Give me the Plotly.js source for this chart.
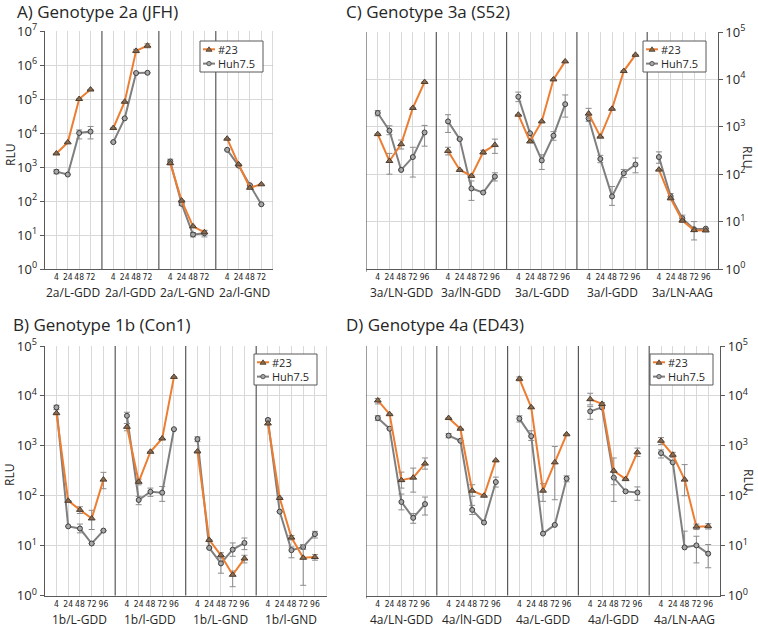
<!DOCTYPE html>
<html>
<head>
<meta charset="utf-8">
<script src="https://cdn.plot.ly/plotly-3.0.1.min.js"></script>
<style>html,body{margin:0;padding:0;background:#fff;}#chart{width:758px;height:627px;}</style>
</head>
<body>
<div id="chart"></div>
<script>
// ---------- DATA ----------
// Panel A: Genotype 2a (JFH)
const timesA = ["4", "24", "48", "72"];
const groupsA = ["2a/L-GDD", "2a/l-GDD", "2a/L-GND", "2a/l-GND"];
const a23 = [[2500, 5300, 1.0e5, 1.9e5], [1.4e4, 8.3e4, 2.6e6, 3.7e6], [1300, 103, 18, 12], [6800, 1200, 245, 310]];
const a23Up = [[0, 0, 0, 0], [0, 0, 3e5, 5e5], [150, 0, 0, 1.5], [0, 0, 0, 0]];
const a23Dn = [[0, 0, 0, 0], [0, 0, 3e5, 5e5], [150, 0, 0, 1.5], [0, 0, 0, 0]];
const aHuh = [[730, 600, 1.0e4, 1.1e4], [5400, 2.7e4, 5.8e5, 5.9e5], [1450, 83, 10.3, 11.3], [3200, 1100, 290, 80]];
const aHuhUp = [[100, 0, 2300, 4500], [0, 0, 0, 0], [250, 15, 1.5, 2.5], [0, 0, 0, 0]];
const aHuhDn = [[100, 0, 3300, 4300], [0, 0, 0, 0], [200, 10, 1.5, 2.5], [0, 0, 0, 0]];

// Panel B: Genotype 1b (Con1)
const timesB = ["4", "24", "48", "72", "96"];
const groupsB = ["1b/L-GDD", "1b/l-GDD", "1b/L-GND", "1b/l-GND"];
const b23 = [[4500, 79, 52, 35, 210], [2400, 190, 760, 1400, 2.4e4], [770, 13, 6.4, 2.6, 5.5], [2800, 90, 14.5, 5.7, 5.9]];
const b23Up = [[0, 0, 8, 16, 84], [400, 25, 0, 0, 0], [0, 0, 0.8, 0.5, 0.9], [0, 0, 1.5, 4.8, 0.7]];
const b23Dn = [[0, 0, 8, 14, 72], [400, 25, 0, 0, 0], [0, 0, 0.8, 1.1, 1.0], [0, 0, 1.5, 4.1, 0.8]];
const bHuh = [[5900, 24.3, 22, 11, 20], [4000, 82, 120, 115, 2150], [1360, 9, 4.4, 8.3, 11.3], [3300, 48, 8.1, 9.4, 17]];
const bHuhUp = [[600, 0, 5, 0, 0], [700, 15, 22, 38, 0], [150, 0, 1.7, 3, 2.9], [200, 0, 1.3, 1, 2.3]];
const bHuhDn = [[600, 0, 4, 0, 0], [1200, 16, 23, 38, 0], [150, 0, 1.6, 2.2, 3], [200, 0, 2.4, 1, 2.8]];

// Panel C: Genotype 3a (S52)
const timesC = ["4", "24", "48", "72", "96"];
const groupsC = ["3a/LN-GDD", "3a/lN-GDD", "3a/L-GDD", "3a/l-GDD", "3a/LN-AAG"];
const c23 = [[700, 190, 430, 2500, 8800], [310, 123, 92, 290, 415], [1800, 490, 1300, 1.0e4, 2.4e4], [1900, 620, 2400, 1.5e4, 3.3e4], [125, 31, 10.5, 6.6, 6.5]];
const c23Up = [[0, 85, 95, 0, 0], [60, 0, 0, 30, 135], [0, 0, 0, 0, 0], [550, 0, 0, 0, 0], [0, 0, 0, 0, 0]];
const c23Dn = [[0, 90, 90, 0, 0], [55, 0, 0, 30, 140], [0, 0, 0, 0, 0], [400, 0, 0, 0, 0], [0, 0, 0, 0, 0]];
const cHuh = [[1950, 830, 123, 230, 760], [1300, 550, 50, 41, 89], [4300, 730, 195, 650, 3000], [1500, 210, 34, 105, 160], [230, 34, 11.7, 6.9, 7.1]];
const cHuhUp = [[250, 220, 0, 140, 310], [500, 0, 22, 0, 18], [1100, 0, 62, 140, 1700], [200, 40, 21, 21, 60], [66, 5, 2, 3.1, 0]];
const cHuhDn = [[250, 150, 0, 143, 370], [540, 0, 22, 0, 17], [900, 0, 69, 130, 1400], [200, 35, 12, 20, 53], [60, 5, 2, 2.8, 0]];

// Panel D: Genotype 4a (ED43)
const timesD = ["4", "24", "48", "72", "96"];
const groupsD = ["4a/LN-GDD", "4a/lN-GDD", "4a/L-GDD", "4a/l-GDD", "4a/LN-AAG"];
const d23 = [[8100, 4300, 205, 230, 440], [3600, 2200, 126, 100, 510], [2.2e4, 5900, 126, 465, 1700], [8600, 6900, 316, 215, 740], [1260, 660, 210, 24, 24.5]];
const d23Up = [[800, 0, 92, 127, 130], [0, 0, 40, 0, 0], [2000, 0, 48, 505, 0], [2700, 500, 254, 0, 160], [200, 80, 210, 3, 3]];
const d23Dn = [[1200, 0, 63, 112, 100], [0, 0, 29, 0, 0], [2000, 0, 49, 382, 0], [2000, 500, 150, 0, 130], [200, 80, 110, 3, 3]];
const dHuh = [[3600, 2200, 75, 36, 68], [1600, 1260, 52, 29, 188], [3500, 1560, 17.4, 26, 220], [4900, 5900, 230, 122, 116], [715, 465, 9.2, 10.1, 6.9]];
const dHuhUp = [[400, 0, 33, 8, 26], [150, 0, 12, 0, 48], [500, 440, 0, 0, 30], [1200, 400, 0, 0, 34], [115, 0, 10.3, 5.3, 3.6]];
const dHuhDn = [[400, 0, 23, 8, 27], [150, 0, 10, 0, 39], [500, 280, 0, 0, 30], [1500, 400, 153, 0, 35], [145, 0, 0, 5.6, 3.3]];

const seriesNames = ["#23", "Huh7.5"];

// ---------- STYLE ----------
const FONT = "Open Sans, sans-serif";
const TICKFONT = "Liberation Sans Narrow, DejaVu Sans Condensed, Liberation Sans, sans-serif";
const ORANGE = "#ED7D31";
const GRAY = "#7F7F7F";
const GRID = "#d9d9d9";
const DARK = "#595959";
const TRI_FILL = "#8a6a4c", TRI_LINE = "#4d3d30";
const CIR_FILL = "#a6a6a6", CIR_LINE = "#404040";
const W = 758, H = 627;

function flatten(groups, nT, vals) {
  const x = [], y = [];
  groups.forEach((g, gi) => {
    for (let i = 0; i < nT; i++) { x.push(gi * (nT + 1) + i + 1); y.push(vals[gi][i]); }
    x.push(null); y.push(null);
  });
  return {x, y};
}
function flatErr(groups, nT, arr) {
  const out = [];
  groups.forEach((g, gi) => { for (let i = 0; i < nT; i++) out.push(arr[gi][i]); out.push(null); });
  return out;
}

const traces = [];
const shapes = [];
const annotations = [];
const layout = {
  width: W, height: H,
  margin: {l: 0, r: 0, t: 0, b: 0, pad: 0},
  paper_bgcolor: "#fff", plot_bgcolor: "#fff",
  font: {family: FONT, color: "#262626"},
  showlegend: false
};

const expText = e => "10<sup>" + e + "</sup>";
const px = v => v / W;           // pixel -> paper x
const py = v => 1 - v / H;       // pixel -> paper y

// Legend box drawn as paper-referenced shapes + one two-line text
function drawLegend(lx, ly) {
  const bw = 63, bh = 31;
  const LFS = 11, gap = LFS * 1.3;
  const r1 = ly + 8.3, r2 = r1 + gap;
  shapes.push({type: "rect", xref: "paper", yref: "paper", x0: px(lx), x1: px(lx + bw), y0: py(ly + bh), y1: py(ly),
               line: {color: DARK, width: 1}, fillcolor: "#fff", layer: "above"});
  const rows = [
    {color: ORANGE, sym: "tri", y: r1},
    {color: GRAY, sym: "cir", y: r2}
  ];
  rows.forEach(r => {
    shapes.push({type: "line", xref: "paper", yref: "paper", x0: px(lx + 3), x1: px(lx + 15), y0: py(r.y), y1: py(r.y),
                 line: {color: r.color, width: 2}, layer: "above"});
    const cx = lx + 9;
    if (r.sym === "tri") {
      const path = `M${px(cx - 3)},${py(r.y + 2)} L${px(cx + 3)},${py(r.y + 2)} L${px(cx)},${py(r.y - 2.5)} Z`;
      shapes.push({type: "path", xref: "paper", yref: "paper", path, fillcolor: TRI_FILL, line: {color: TRI_LINE, width: 0.8}, layer: "above"});
    } else {
      shapes.push({type: "circle", xref: "paper", yref: "paper", x0: px(cx - 2.2), x1: px(cx + 2.2), y0: py(r.y + 2.2), y1: py(r.y - 2.2),
                   fillcolor: CIR_FILL, line: {color: CIR_LINE, width: 0.8}, layer: "above"});
    }
  });
  annotations.push({text: seriesNames.join("<br>"), xref: "paper", yref: "paper", x: px(lx + 17), y: py((r1 + r2) / 2),
                    xanchor: "left", yanchor: "middle", align: "left",
                    showarrow: false, font: {size: LFS, family: FONT, color: "#262626"}, borderpad: 0});
}

function panel(p) {
  const nT = p.times.length;
  const nG = p.groups.length;
  const span = nG * (nT + 1);
  const xs = p.xid === 1 ? "" : String(p.xid);
  const xName = "xaxis" + xs, yName = "yaxis" + xs;
  const xRef = "x" + xs, yRef = "y" + xs;

  const tickvals = [], ticktext = [];
  p.groups.forEach((g, gi) => p.times.forEach((t, i) => { tickvals.push(gi * (nT + 1) + i + 1); ticktext.push(t); }));

  layout[xName] = {
    domain: [px(p.px0), px(p.px1)], anchor: yRef, range: [0, span],
    tickmode: "array", tickvals, ticktext, ticks: "", tickangle: 0, showgrid: true, gridcolor: GRID, gridwidth: 1,
    zeroline: false, showline: true, linecolor: DARK, linewidth: 1.2,
    tickfont: {size: 8.5, family: TICKFONT, color: "#262626"}, fixedrange: true
  };
  const ev = [], et = [];
  for (let e = 0; e <= p.ymax; e++) { ev.push(Math.pow(10, e)); et.push(expText(e)); }
  layout[yName] = {
    domain: [py(p.py1), py(p.py0)], anchor: xRef, type: "log", range: [0, p.ymax],
    tickmode: "array", tickvals: ev, ticktext: et, side: p.side,
    showgrid: true, gridcolor: GRID, gridwidth: 1, zeroline: false,
    showline: true, linecolor: DARK, linewidth: 1.2, ticks: "outside", ticklen: 4, tickcolor: DARK,
    tickfont: {size: 13, family: FONT, color: "#262626"}, fixedrange: true
  };

  const defs = [
    {name: seriesNames[1], vals: p.huh, up: p.huhUp, dn: p.huhDn, color: GRAY, sym: "circle", mcol: CIR_FILL, mline: CIR_LINE, size: 5},
    {name: seriesNames[0], vals: p.s23, up: p.s23Up, dn: p.s23Dn, color: ORANGE, sym: "triangle-up", mcol: TRI_FILL, mline: TRI_LINE, size: 6}
  ];
  defs.forEach(d => {
    const f = flatten(p.groups, nT, d.vals);
    traces.push({
      type: "scatter", mode: "lines+markers", name: d.name, x: f.x, y: f.y,
      xaxis: xRef, yaxis: yRef, connectgaps: false,
      line: {color: d.color, width: 2},
      marker: {symbol: d.sym, size: d.size, color: d.mcol, line: {color: d.mline, width: 1}},
      error_y: {type: "data", symmetric: false, array: flatErr(p.groups, nT, d.up), arrayminus: flatErr(p.groups, nT, d.dn),
                color: "#8c8c8c", thickness: 1, width: 3},
      hoverinfo: "x+y"
    });
  });

  for (let g = 1; g < nG; g++) {
    shapes.push({type: "line", xref: xRef, yref: yRef + " domain", x0: g * (nT + 1), x1: g * (nT + 1), y0: 0, y1: 1,
                 line: {color: DARK, width: 1.2}});
  }
  if (p.side === "right") {
    shapes.push({type: "line", xref: xRef, yref: yRef + " domain", x0: 0, x1: 0, y0: -0.012, y1: 1, line: {color: DARK, width: 1.2}});
  } else {
    shapes.push({type: "line", xref: xRef, yref: yRef + " domain", x0: span, x1: span, y0: 0, y1: 1, line: {color: "#bfbfbf", width: 1}});
  }

  p.groups.forEach((g, gi) => {
    annotations.push({text: g, xref: xRef, yref: "paper", x: gi * (nT + 1) + (nT + 1) / 2, y: py(p.glabY),
                      showarrow: false, xanchor: "center", yanchor: "middle", font: {size: 12, family: FONT, color: "#262626"}});
  });
  annotations.push({text: p.title, xref: "paper", yref: "paper", x: px(p.titleX), y: py(p.titleY),
                    showarrow: false, xanchor: "left", yanchor: "middle", borderpad: 0, font: {size: 17, family: FONT, color: "#262626"}});
  annotations.push({text: "RLU", xref: "paper", yref: "paper", x: px(p.rluX), y: py(p.rluY), textangle: p.side === "right" ? 90 : -90,
                    showarrow: false, xanchor: "center", yanchor: "middle", font: {size: 12, family: FONT, color: "#262626"}});
  drawLegend(p.legX, p.legY);
}

panel({xid: 1, title: "A) Genotype 2a (JFH)", times: timesA, groups: groupsA, s23: a23, s23Up: a23Up, s23Dn: a23Dn,
       huh: aHuh, huhUp: aHuhUp, huhDn: aHuhDn, px0: 45, px1: 272.7, py0: 31, py1: 269, ymax: 7, side: "left",
       glabY: 292, titleX: 16, titleY: 12, rluX: 10, rluY: 155, legX: 200, legY: 41});
panel({xid: 2, title: "B) Genotype 1b (Con1)", times: timesB, groups: groupsB, s23: b23, s23Up: b23Up, s23Dn: b23Dn,
       huh: bHuh, huhUp: bHuhUp, huhDn: bHuhDn, px0: 44.7, px1: 326.7, py0: 346, py1: 595.5, ymax: 5, side: "left",
       glabY: 619, titleX: 12, titleY: 324, rluX: 9, rluY: 475, legX: 254, legY: 354});
panel({xid: 3, title: "C) Genotype 3a (S52)", times: timesC, groups: groupsC, s23: c23, s23Up: c23Up, s23Dn: c23Dn,
       huh: cHuh, huhUp: cHuhUp, huhDn: cHuhDn, px0: 366, px1: 717.5, py0: 32, py1: 269, ymax: 5, side: "right",
       glabY: 292, titleX: 345, titleY: 12, rluX: 748, rluY: 157, legX: 643, legY: 41});
panel({xid: 4, title: "D) Genotype 4a (ED43)", times: timesD, groups: groupsD, s23: d23, s23Up: d23Up, s23Dn: d23Dn,
       huh: dHuh, huhUp: dHuhUp, huhDn: dHuhDn, px0: 366, px1: 720, py0: 346, py1: 595.5, ymax: 5, side: "right",
       glabY: 619, titleX: 345, titleY: 324, rluX: 749, rluY: 480, legX: 650, legY: 354});

layout.shapes = shapes;
layout.annotations = annotations;

Plotly.newPlot("chart", traces, layout, {displayModeBar: false, staticPlot: true});
</script>
</body>
</html>
